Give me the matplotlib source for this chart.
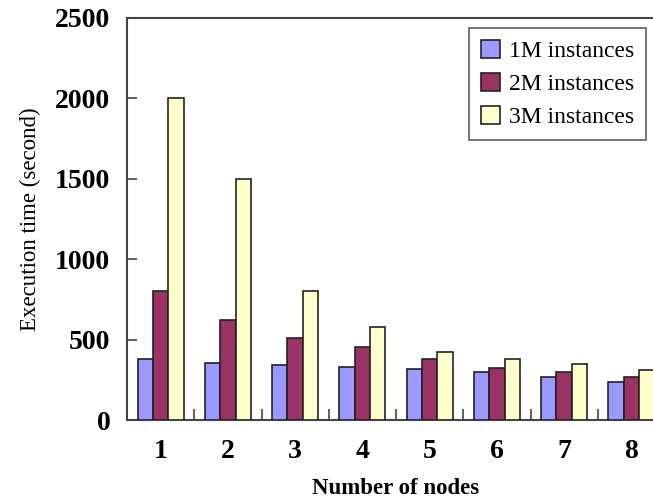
import matplotlib.pyplot as plt
import numpy as np

nodes = ['1', '2', '3', '4', '5', '6', '7', '8']
series = ['1M instances', '2M instances', '3M instances']
time_1m = [380, 357, 343, 332, 318, 301, 270, 239]
time_2m = [800, 620, 510, 453, 380, 326, 301, 270]
time_3m = [2000, 1500, 800, 580, 420, 380, 349, 312]
colors = ['#9999FF', '#993366', '#FFFFCC']

plt.rcParams['font.family'] = ['Liberation Serif', 'DejaVu Serif']

fig = plt.figure(figsize=(6.53, 5.0), dpi=100)
ax = fig.add_axes([127 / 653, 80 / 500, 538 / 653, 402 / 500])

x = np.arange(1, len(nodes) + 1)
width = 0.227
for k, (vals, name) in enumerate(zip([time_1m, time_2m, time_3m], series)):
    ax.bar(x + (k - 1) * width, vals, width, color=colors[k], edgecolor='#222222',
           linewidth=1.2, label=name, zorder=3)

ax.set_xlim(0.5, len(nodes) + 0.5)
ax.set_ylim(0, 2500)
ax.set_yticks(np.arange(0, 2501, 500))
ax.set_xticks(x)
ax.set_xticklabels(nodes)
ax.set_xticks(np.arange(1.5, len(nodes), 1), minor=True)

ax.tick_params(axis='x', which='major', length=0, pad=14, labelsize=20)
ax.tick_params(axis='x', which='minor', direction='in', length=8, width=1.2, color='#444444')
ax.tick_params(axis='y', direction='in', length=7, width=1.2, color='#444444', pad=12, labelsize=20)
for lab in ax.get_xticklabels() + ax.get_yticklabels():
    lab.set_fontweight('bold')

for side in ['left', 'bottom', 'top', 'right']:
    ax.spines[side].set_color('#444444')
    ax.spines[side].set_linewidth(1.5)

ax.set_ylabel('Execution time (second)', fontsize=16.5, labelpad=10)
ax.set_xlabel('Number of nodes', fontsize=16.5, fontweight='bold', labelpad=10)

leg = ax.legend(loc='upper left', bbox_to_anchor=(0.636, 0.975), fontsize=17,
                frameon=True, fancybox=False, edgecolor='#333333',
                handlelength=0.8, handleheight=0.8, handletextpad=0.4,
                labelspacing=0.45, borderpad=0.5, borderaxespad=0)
leg.get_frame().set_linewidth(1.2)

fig.savefig('out.png', dpi=100)
